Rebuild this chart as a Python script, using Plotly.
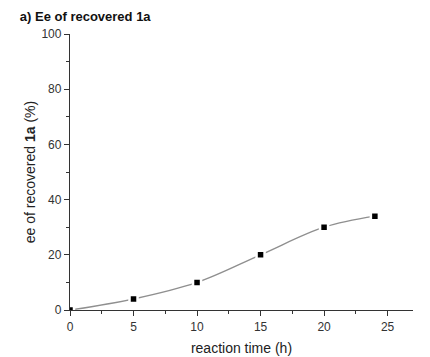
import plotly.graph_objects as go

time_h = [0, 5, 10, 15, 20, 24]
ee_pct = [0, 4, 10, 20, 30, 34]

FONT = "Liberation Sans, Arial, sans-serif"

fig = go.Figure()
fig.add_trace(go.Scatter(
    x=time_h, y=ee_pct, mode="lines",
    line=dict(color="#8f8f8f", width=1.4, shape="spline", smoothing=1.0),
    hoverinfo="skip", showlegend=False,
))
fig.add_trace(go.Scatter(
    x=time_h, y=ee_pct, mode="markers",
    marker=dict(symbol="square", size=8, color="black",
                line=dict(color="white", width=2.5)),
    showlegend=False, cliponaxis=True,
))

tick_font = dict(family=FONT, size=12, color="#333")
title_font = dict(family=FONT, size=14, color="#222")
fig.update_layout(
    width=422, height=349,
    margin=dict(l=62, r=17, t=26, b=47),
    plot_bgcolor="white", paper_bgcolor="white",
    font=tick_font,
    title=dict(text="<b>a) Ee of recovered 1a</b>", x=0.028, xanchor="left",
               y=0.977, yanchor="middle",
               font=dict(family=FONT, size=13, color="#111")),
    xaxis=dict(
        range=[0, 27], tickvals=[0, 5, 10, 15, 20, 25], automargin=False,
        showgrid=False, zeroline=False,
        showline=True, linecolor="#333", linewidth=1.3,
        ticks="outside", ticklen=5, tickcolor="#333", tickwidth=1.2,
        minor=dict(tickvals=[2.5, 7.5, 12.5, 17.5, 22.5], ticks="outside", ticklen=3,
                   tickcolor="#333", showgrid=False),
        title=dict(text="reaction time (h)", standoff=10, font=title_font),
        tickfont=tick_font,
    ),
    yaxis=dict(
        range=[0, 100], tickvals=[0, 20, 40, 60, 80, 100], automargin=False,
        showgrid=False, zeroline=False,
        showline=True, linecolor="#333", linewidth=1.3,
        ticks="outside", ticklen=5, tickcolor="#333", tickwidth=1.2,
        minor=dict(tickvals=[10, 30, 50, 70, 90], ticks="outside", ticklen=3,
                   tickcolor="#333", showgrid=False),
        title=dict(text="ee of recovered <b>1a</b> (%)", standoff=2, font=title_font),
        tickfont=tick_font,
    ),
)

fig.write_html("out.html")
